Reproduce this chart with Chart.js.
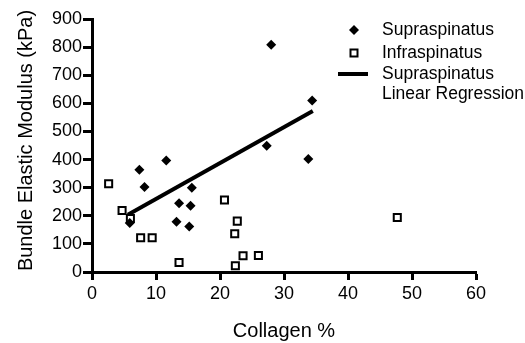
<!DOCTYPE html>
<html>
<head>
<meta charset="utf-8">
<script src="https://cdn.jsdelivr.net/npm/chart.js@4"></script>
<style>
  html, body { margin: 0; padding: 0; background: #fff; }
  #chart { display: block; }
</style>
</head>
<body>
<canvas id="chart" width="525" height="343"></canvas>
<script>
const supraX = [5.9, 7.4, 8.2, 11.6, 13.2, 13.6, 15.2, 15.4, 15.6, 27.3, 28.0, 33.8, 34.4];
const supraY = [174, 364, 302, 397, 179, 245, 162, 236, 300, 449, 808, 402, 610];
const infraX = [2.6, 4.7, 6.0, 7.6, 9.4, 13.6, 20.7, 22.7, 22.3, 22.4, 23.6, 26.0, 47.7];
const infraY = [314, 219, 190, 122, 122, 34, 256, 181, 136, 22, 58, 59, 194];
const regX = [5.6, 34.5];
const regY = [204, 573];
const xTicks = [0, 10, 20, 30, 40, 50, 60];
const yTicks = [0, 100, 200, 300, 400, 500, 600, 700, 800, 900];
const legendLabels = ["Supraspinatus", "Infraspinatus", ["Supraspinatus", "Linear Regression"]];
const xTitle = "Collagen %";
const yTitle = "Bundle Elastic Modulus (kPa)";

const FONT = "'Liberation Sans', Arial, Helvetica, sans-serif";

function toPoints(xs, ys) {
    return xs.map((x, i) => ({ x, y: ys[i] }));
}

// legend and y title drawn by hand so they sit where the original has them
const legendPlugin = {
    id: "handLegend",
    afterDraw(chart) {
        const ctx = chart.ctx;
        ctx.save();
        ctx.fillStyle = "#000";
        ctx.strokeStyle = "#000";
        ctx.font = "17.5px " + FONT;
        ctx.textAlign = "left";
        ctx.textBaseline = "middle";

        // diamond
        const r = 5;
        ctx.beginPath();
        ctx.moveTo(354, 30 - r);
        ctx.lineTo(354 + r, 30);
        ctx.lineTo(354, 30 + r);
        ctx.lineTo(354 - r, 30);
        ctx.closePath();
        ctx.fill();
        ctx.fillText(legendLabels[0], 382, 30);

        // open square
        ctx.lineWidth = 2;
        ctx.strokeRect(350.5, 49.5, 7, 7);
        ctx.fillText(legendLabels[1], 382, 53);

        // line
        ctx.lineWidth = 4;
        ctx.beginPath();
        ctx.moveTo(338, 74);
        ctx.lineTo(368, 74);
        ctx.stroke();
        ctx.fillText(legendLabels[2][0], 382, 74);
        ctx.fillText(legendLabels[2][1], 382, 94);

        // y axis title
        ctx.translate(32, 140.5);
        ctx.rotate(-Math.PI / 2);
        ctx.font = "20px " + FONT;
        ctx.textAlign = "center";
        ctx.textBaseline = "alphabetic";
        ctx.fillText(yTitle, 0, 0);
        ctx.restore();
    }
};

new Chart(document.getElementById("chart"), {
    type: "scatter",
    data: {
        datasets: [
            {
                label: "Supraspinatus",
                data: toPoints(supraX, supraY),
                pointStyle: "rectRot",
                pointRadius: 5,
                backgroundColor: "#000",
                borderColor: "#000",
                borderWidth: 0
            },
            {
                label: "Infraspinatus",
                data: toPoints(infraX, infraY),
                pointStyle: "rect",
                pointRadius: 5,
                backgroundColor: "#fff",
                borderColor: "#000",
                borderWidth: 2
            },
            {
                type: "line",
                label: "Supraspinatus Linear Regression",
                data: toPoints(regX, regY),
                borderColor: "#000",
                borderWidth: 4,
                pointRadius: 0,
                fill: false
            }
        ]
    },
    options: {
        responsive: false,
        animation: false,
        layout: { padding: { top: 19, right: 49, left: 0, bottom: 0 } },
        plugins: { legend: { display: false }, tooltip: { enabled: false } },
        scales: {
            x: {
                type: "linear",
                min: 0,
                max: 60,
                afterFit: s => { s.height = 71; },
                afterBuildTicks: s => { s.ticks = xTicks.map(v => ({ value: v })); },
                border: { display: true, color: "#000", width: 3 },
                grid: { drawOnChartArea: false, drawTicks: true, tickLength: 8, tickWidth: 3, tickColor: "#000" },
                ticks: { color: "#000", padding: 3, font: { family: FONT, size: 18 }, maxRotation: 0 },
                title: {
                    display: true,
                    text: xTitle,
                    color: "#000",
                    font: { family: FONT, size: 20, lineHeight: 1.2 },
                    padding: { top: 0, bottom: 0 }
                }
            },
            y: {
                min: 0,
                max: 900,
                afterFit: s => { s.width = 92; },
                afterBuildTicks: s => { s.ticks = yTicks.map(v => ({ value: v })); },
                border: { display: true, color: "#000", width: 3 },
                grid: { drawOnChartArea: false, drawTicks: true, tickLength: 9, tickWidth: 3, tickColor: "#000" },
                ticks: { color: "#000", padding: 1, font: { family: FONT, size: 18 } },
                title: { display: false }
            }
        }
    },
    plugins: [legendPlugin]
});
</script>
</body>
</html>
